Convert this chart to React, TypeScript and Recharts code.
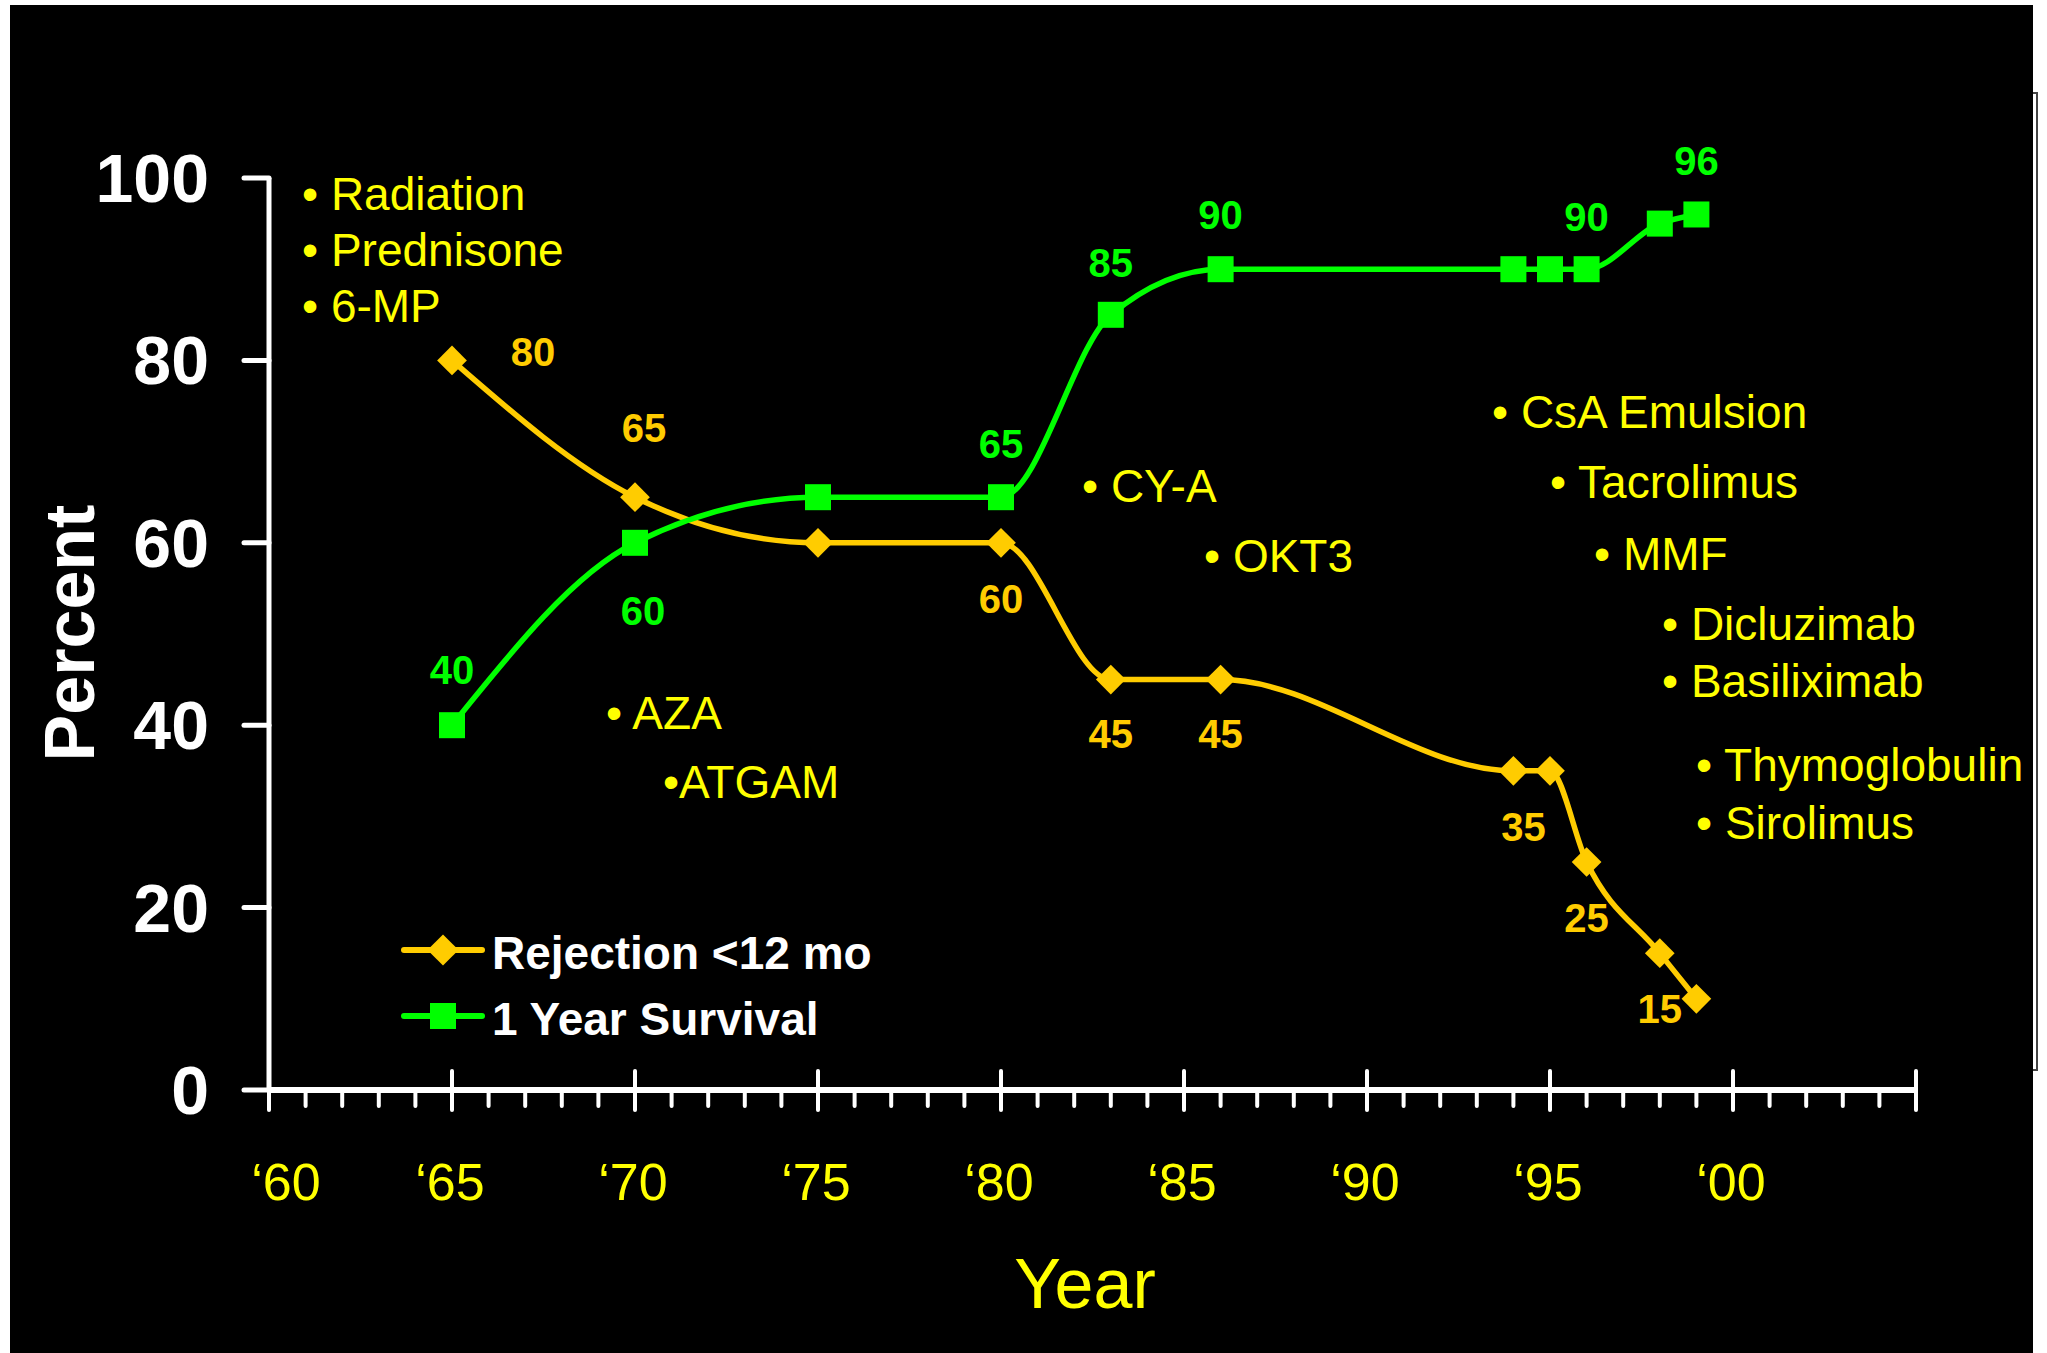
import React from 'react';
import { LineChart, Line, XAxis, YAxis, Legend } from 'recharts';

const years = [1965, 1970, 1975, 1980, 1983, 1986, 1994, 1995, 1996, 1998, 1999];
const rejection = [80, 65, 60, 60, 45, 45, 35, 35, 25, 15, 10];
const survival = [40, 60, 65, 65, 85, 90, 90, 90, 90, 95, 96];
const rejectionLabels = ['80', '65', '', '60', '45', '45', '35', '', '25', '15', ''];
const survivalLabels = ['40', '60', '', '65', '85', '90', '', '', '90', '', '96'];

const yTicks = [0, 20, 40, 60, 80, 100];
const decadeLabels = ['\u201860', '\u201865', '\u201870', '\u201875', '\u201880', '\u201885', '\u201890', '\u201895', '\u201800'];
const allYears = Array.from({ length: 46 }, (_, i) => 1960 + i);

const earlyDrugs = ['Radiation', 'Prednisone', '6-MP'];
const seventiesDrugs = ['AZA', 'ATGAM'];
const eightiesDrugs = ['CY-A', 'OKT3'];
const ninetiesDrugs = ['CsA Emulsion', 'Tacrolimus', 'MMF', 'Dicluzimab', 'Basiliximab', 'Thymoglobulin', 'Sirolimus'];

const data = years.map((year, i) => ({
  year,
  rejection: rejection[i],
  survival: survival[i],
}));

const FONT = '"Liberation Sans", Arial, sans-serif';
const ORANGE = '#FFCC00';
const GREEN = '#00FF00';
const YELLOW = '#FFFF00';

// label offsets (dx, dy) from the marker centre
const rejectionLabelOffset = [[81, -8], [9, -69], [0, 0], [0, 56], [0, 54], [0, 54], [10, 56], [0, 0], [0, 56], [0, 56], [0, 0]];
const survivalLabelOffset = [[0, -55], [8, 68], [0, 0], [0, -53], [0, -52], [0, -54], [0, 0], [0, 0], [0, -52], [0, 0], [0, -53]];

// annotation placement: [text, left, baseline]
const annotationPlaces: [string, number, number][] = [
  ['\u2022 ' + earlyDrugs[0], 302, 210],
  ['\u2022 ' + earlyDrugs[1], 302, 266],
  ['\u2022 ' + earlyDrugs[2], 302, 322],
  ['\u2022 ' + seventiesDrugs[0], 606, 729],
  ['\u2022' + seventiesDrugs[1], 663, 798],
  ['\u2022 ' + eightiesDrugs[0], 1082, 502],
  ['\u2022 ' + eightiesDrugs[1], 1204, 572],
  ['\u2022 ' + ninetiesDrugs[0], 1492, 428],
  ['\u2022 ' + ninetiesDrugs[1], 1550, 498],
  ['\u2022 ' + ninetiesDrugs[2], 1594, 570],
  ['\u2022 ' + ninetiesDrugs[3], 1662, 640],
  ['\u2022 ' + ninetiesDrugs[4], 1662, 697],
  ['\u2022 ' + ninetiesDrugs[5], 1696, 781],
  ['\u2022 ' + ninetiesDrugs[6], 1696, 839],
];

const XTick = (props: any) => {
  const { x, y, payload } = props;
  const v = payload.value;
  const major = v % 5 === 0;
  const label = major ? decadeLabels[(v - 1960) / 5] : undefined;
  return (
    <g>
      <line x1={x} x2={x} y1={major ? y - 19 : y} y2={major ? y + 20 : y + 16} stroke="#fff" strokeWidth={4} strokeLinecap="round" />
      {label && (
        <text x={x + (v === 1960 ? 17 : -2)} y={y + 110} textAnchor="middle" fill={YELLOW} fontSize={52} fontFamily={FONT}>
          {label}
        </text>
      )}
    </g>
  );
};

const YTick = (props: any) => {
  const { x, y, payload } = props;
  return (
    <g>
      <line x1={x - 25} x2={x} y1={y} y2={y} stroke="#fff" strokeWidth={5} strokeLinecap="round" />
      <text x={x - 60} y={y + 24} textAnchor="end" fill="#fff" fontSize={68} fontWeight="bold" fontFamily={FONT}>
        {payload.value}
      </text>
    </g>
  );
};

const DataLabel = ({ cx, cy, text, off, color }: any) =>
  text ? (
    <text x={cx + off[0]} y={cy + off[1] + 14} textAnchor="middle" fill={color} fontSize={40} fontWeight="bold" fontFamily={FONT}>
      {text}
    </text>
  ) : null;

const RejectionDot = (props: any) => {
  const { cx, cy, index } = props;
  return (
    <g>
      <rect x={cx - 10.5} y={cy - 10.5} width={21} height={21} fill={ORANGE} transform={`rotate(45 ${cx} ${cy})`} />
      <DataLabel cx={cx} cy={cy} text={rejectionLabels[index]} off={rejectionLabelOffset[index]} color={ORANGE} />
    </g>
  );
};

const SurvivalDot = (props: any) => {
  const { cx, cy, index } = props;
  return (
    <g>
      <rect x={cx - 13} y={cy - 13} width={26} height={26} fill={GREEN} />
      <DataLabel cx={cx} cy={cy} text={survivalLabels[index]} off={survivalLabelOffset[index]} color={GREEN} />
    </g>
  );
};

const legendOrder = ['rejection', 'survival'];

const renderLegend = (props: any) => {
  const payload = [...(props.payload || [])].sort(
    (a: any, b: any) => legendOrder.indexOf(a.dataKey) - legendOrder.indexOf(b.dataKey)
  );
  return (
    <svg width={520} height={130}>
      {payload.map((entry: any, i: number) => {
        const cy = i === 0 ? 35 : 101;
        const isRej = entry.dataKey === 'rejection';
        return (
          <g key={entry.value}>
            <line x1={14} x2={92} y1={cy} y2={cy} stroke={entry.color} strokeWidth={6} strokeLinecap="round" />
            {isRej ? (
              <rect x={42} y={cy - 11} width={22} height={22} fill={entry.color} transform={`rotate(45 53 ${cy})`} />
            ) : (
              <rect x={40} y={cy - 13} width={26} height={26} fill={entry.color} />
            )}
            <text x={102} y={cy + 19} fill="#fff" fontSize={46} fontWeight="bold" fontFamily={FONT}>
              {entry.value}
            </text>
          </g>
        );
      })}
    </svg>
  );
};

export default function App() {
  return (
    <div style={{ position: 'absolute', left: 0, top: 0, width: 2047, height: 1353, background: '#fff', overflow: 'hidden' }}>
      <div style={{ position: 'absolute', left: 10, top: 5, width: 2023, height: 1348, background: '#000' }} />
      <div
        style={{
          position: 'absolute',
          left: 2033,
          top: 92,
          width: 3,
          height: 975,
          borderTop: '2px solid #444',
          borderRight: '2px solid #444',
          borderBottom: '2px solid #444',
        }}
      />
      <div style={{ position: 'absolute', left: 0, top: 0 }}>
        <LineChart width={2047} height={1353} data={data} margin={{ top: 178, right: 131, bottom: 203, left: 169 }}>
          <XAxis
            dataKey="year"
            type="number"
            domain={[1960, 2005]}
            ticks={allYears}
            interval={0}
            height={60}
            tickSize={0}
            tickMargin={0}
            tickLine={false}
            axisLine={{ stroke: '#fff', strokeWidth: 6 }}
            tick={<XTick />}
            allowDataOverflow
          />
          <YAxis
            type="number"
            domain={[0, 100]}
            ticks={yTicks}
            interval={0}
            width={100}
            tickSize={0}
            tickMargin={0}
            tickLine={false}
            axisLine={{ stroke: '#fff', strokeWidth: 5 }}
            tick={<YTick />}
          />
          <Legend
            layout="horizontal"
            verticalAlign="middle"
            align="center"
            wrapperStyle={{ left: 390, top: 915, width: 520, height: 130 }}
            content={renderLegend}
          />
          <Line
            type="monotone"
            dataKey="rejection"
            name="Rejection <12 mo"
            stroke={ORANGE}
            strokeWidth={5.5}
            dot={(p: any) => <RejectionDot key={`r${p.index}`} {...p} />}
            activeDot={false}
            isAnimationActive={false}
          />
          <Line
            type="monotone"
            dataKey="survival"
            name="1 Year Survival"
            stroke={GREEN}
            strokeWidth={5.5}
            dot={(p: any) => <SurvivalDot key={`s${p.index}`} {...p} />}
            activeDot={false}
            isAnimationActive={false}
          />
        </LineChart>
      </div>
      <svg width={2047} height={1353} style={{ position: 'absolute', left: 0, top: 0, pointerEvents: 'none' }}>
        {annotationPlaces.map(([t, x, y]) => (
          <text key={t} x={x} y={y} fill={YELLOW} fontSize={46} fontFamily={FONT}>
            {t}
          </text>
        ))}
        <text x={94} y={633} transform="rotate(-90 94 633)" textAnchor="middle" fill="#fff" fontSize={70} fontWeight="bold" fontFamily={FONT}>
          Percent
        </text>
        <text x={1085} y={1308} textAnchor="middle" fill={YELLOW} fontSize={70} fontFamily={FONT}>
          Year
        </text>
      </svg>
    </div>
  );
}
